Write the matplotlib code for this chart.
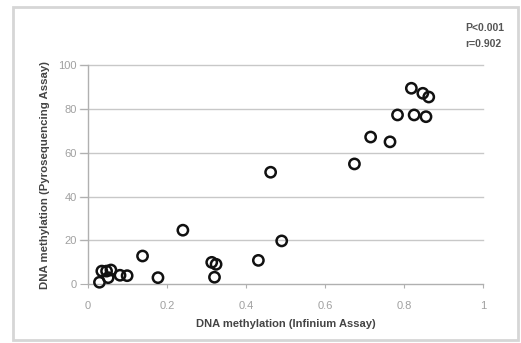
import matplotlib
matplotlib.use("Agg")
import matplotlib.pyplot as plt
from matplotlib.patches import Rectangle

infinium = [0.029, 0.035, 0.047, 0.058, 0.051, 0.081, 0.099, 0.138, 0.177, 0.240,
            0.313, 0.324, 0.320, 0.431, 0.490, 0.462, 0.674, 0.715, 0.764, 0.783,
            0.825, 0.855, 0.818, 0.847, 0.862]
pyroseq = [0.8, 5.9, 5.9, 6.4, 2.9, 4.0, 3.8, 12.8, 2.9, 24.6,
           9.9, 9.0, 3.1, 10.8, 19.7, 51.1, 54.9, 67.2, 65.0, 77.3,
           77.3, 76.5, 89.5, 87.2, 85.5]
xticks = [0, 0.2, 0.4, 0.6, 0.8, 1]
xticklabels = ["0", "0.2", "0.4", "0.6", "0.8", "1"]
yticks = [0, 20, 40, 60, 80, 100]

plt.rcParams['font.family'] = ['Liberation Sans', 'DejaVu Sans']

fig = plt.figure(figsize=(5.21, 3.43), dpi=100)
fig.patch.set_facecolor('white')
fig.add_artist(Rectangle((13/521, 1-340/343), 505/521, 333/343, transform=fig.transFigure,
                         fill=False, edgecolor='#d6d6d6', linewidth=2))

ax = fig.add_axes([88/521, 1-284/343, 395.3/521, 218.7/343])
ax.set_xlim(0, 1)
ax.set_ylim(0, 100)
for y in yticks[1:]:
    ax.plot([-0.02, 1], [y, y], color='#c8c8c8', linewidth=1, clip_on=False, zorder=1)
ax.scatter(infinium, pyroseq, s=55, facecolors='none', edgecolors='#111111',
           linewidths=1.8, zorder=3, clip_on=False)

for s in ['top', 'right']:
    ax.spines[s].set_visible(False)
for s in ['left', 'bottom']:
    ax.spines[s].set_color('#b0b0b0')
    ax.spines[s].set_linewidth(1)

ax.set_xticks(xticks)
ax.set_xticklabels(xticklabels)
ax.set_yticks(yticks)
ax.tick_params(axis='y', length=6, color='#b0b0b0', labelsize=8, labelcolor='#a0a0a0', pad=2)
ax.tick_params(axis='x', length=3, color='#b0b0b0', labelsize=8, labelcolor='#a0a0a0', pad=9)

ax.set_xlabel('DNA methylation (Infinium Assay)', fontsize=8, fontweight='bold',
              color='#444444', labelpad=6)
ax.set_ylabel('DNA methylation (Pyrosequencing Assay)', fontsize=8.2, fontweight='bold',
              color='#444444', labelpad=6)

fig.text(465/521, 1-28/343, 'P<0.001', fontsize=7.5, fontweight='bold', color='#555555',
         ha='left', va='center')
fig.text(465/521, 1-44/343, 'r=0.902', fontsize=7.5, fontweight='bold', color='#555555',
         ha='left', va='center')

fig.savefig('out.png', dpi=100, facecolor='white')
